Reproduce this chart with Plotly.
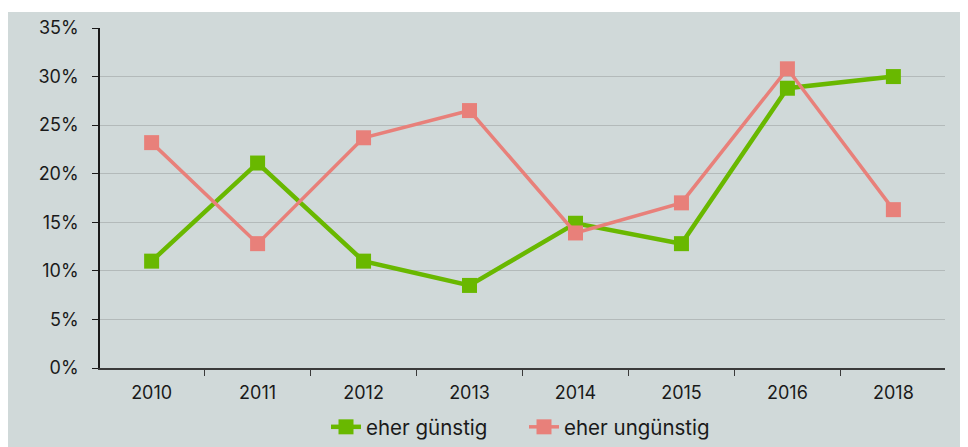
import plotly.graph_objects as go

years = ["2010", "2011", "2012", "2013", "2014", "2015", "2016", "2018"]
eher_guenstig = [0.110, 0.211, 0.110, 0.085, 0.149, 0.128, 0.288, 0.300]
eher_unguenstig = [0.232, 0.128, 0.237, 0.265, 0.139, 0.170, 0.308, 0.163]
y_ticks = [0, 0.05, 0.10, 0.15, 0.20, 0.25, 0.30, 0.35]

GREEN = "#69b800"
RED = "#e8807a"
BG = "#d0d9d9"
FONT = "Inter, 'Open Sans', sans-serif"

fig = go.Figure()
fig.add_trace(go.Scatter(
    x=years, y=eher_guenstig, name="eher günstig", mode="lines+markers",
    line=dict(color=GREEN, width=4.5),
    marker=dict(symbol="square", size=15, color=GREEN),
))
fig.add_trace(go.Scatter(
    x=years, y=eher_unguenstig, name="eher ungünstig", mode="lines+markers",
    line=dict(color=RED, width=3.5),
    marker=dict(symbol="square", size=15, color=RED),
))

# page has 8px body margin; figure sits at (8, 8)
W, H = 960, 439
L, R, T, B = 92, 23, 20, 79
pw, ph = W - L - R, H - T - B

fig.add_shape(type="rect", xref="paper", yref="paper",
              x0=-L / pw - 0.01, x1=(W - L) / pw + 0.01,
              y0=-(B + 5) / ph, y1=(ph + T - 4) / ph,
              fillcolor=BG, line=dict(width=0), layer="below")

fig.update_layout(
    width=W, height=H,
    margin=dict(l=L, r=R, t=T, b=B),
    paper_bgcolor="white",
    plot_bgcolor="rgba(0,0,0,0)",
    font=dict(family=FONT, size=18, color="#1a1a1a"),
    showlegend=True,
    legend=dict(orientation="h", x=318 / W, xref="container", xanchor="left",
                y=-0.005, yref="container", yanchor="bottom",
                entrywidthmode="pixels", entrywidth=153,
                font=dict(size=20.5), bgcolor="rgba(0,0,0,0)"),
    xaxis=dict(type="category", categoryorder="array", categoryarray=years,
               showline=True, linecolor="#3a3a3a", linewidth=1.5,
               ticks="outside", ticklen=6, tickcolor="#3a3a3a", tickson="boundaries",
               showgrid=False, tickfont=dict(size=18), ticklabelstandoff=8,
               automargin=False),
    yaxis=dict(range=[0, 0.35], tickvals=y_ticks, tickformat=".0%",
               showline=True, linecolor="#1a1a1a", linewidth=1.5,
               ticks="outside", ticklen=6, tickcolor="#1a1a1a",
               showgrid=True, gridcolor="#b3baba", gridwidth=1.2,
               zeroline=False, tickfont=dict(size=18), ticklabelstandoff=10,
               automargin=False),
)

fig.write_html("out.html")
